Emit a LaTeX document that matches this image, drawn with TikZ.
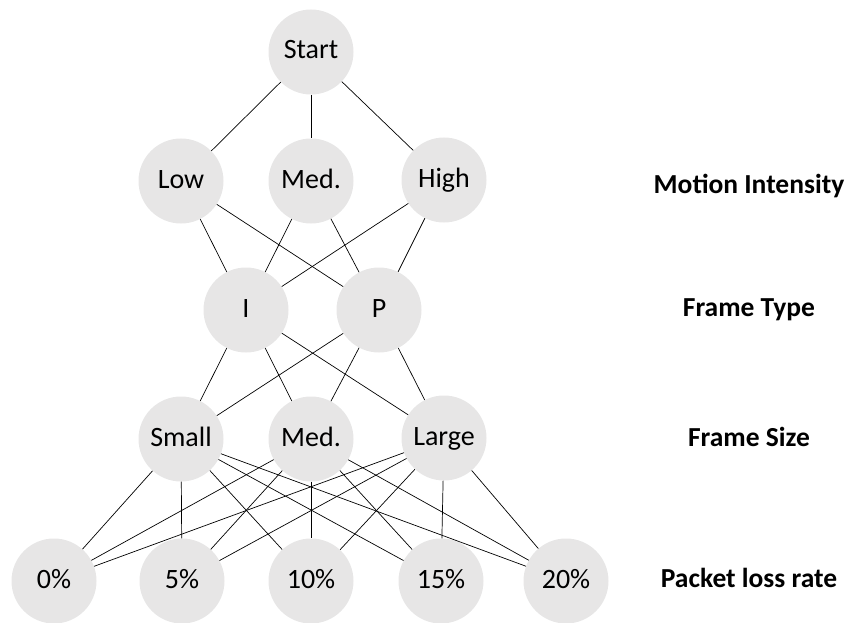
\documentclass[tikz,border=0pt]{standalone}
\usepackage{fontspec}
\setmainfont{Carlito}
\usepackage{tikz}

\definecolor{stategray}{RGB}{231,230,230}

\begin{document}
\begin{tikzpicture}[
x=1pt, y=-1pt,
state/.style={circle, fill=stategray, minimum size=85pt, inner sep=0pt,
  font=\fontsize{28}{33}\selectfont, text height=19pt, text depth=5pt},
level/.style={font=\bfseries\fontsize{27.5}{33}\selectfont},
link/.style={draw=black, line width=0.7pt}
]
\useasboundingbox (0,0) rectangle (846,623);

% tree
\node[state] (start) at (311,52) {Start};

\node[state] (low)  at (181,181) {Low};
\node[state] (medm) at (311,181) {Med.};
\node[state] (high) at (444,180) {High};

\node[state] (I) at (246,310) {I};
\node[state] (P) at (379,310) {P};

\node[state] (small) at (181,439) {Small};
\node[state] (meds)  at (311,439) {Med.};
\node[state] (large) at (444,438) {Large};

\node[state] (p0)  at (54,581)  {0\%};
\node[state] (p5)  at (182,581) {5\%};
\node[state] (p10) at (311,581) {10\%};
\node[state] (p15) at (441,581) {15\%};
\node[state] (p20) at (566,581) {20\%};

% level names
\node[level] (motion) at (749,186) {Motion Intensity};
\node[level] (ftype)  at (749,310) {Frame Type};
\node[level] (fsize)  at (749,437) {Frame Size};
\node[level] (loss)   at (749,578) {Packet loss rate};

% links
\foreach \a in {low,medm,high}
  \draw[link] (start) -- (\a);
\foreach \a in {low,medm,high}
  \foreach \b in {I,P}
    \draw[link] (\a) -- (\b);
\foreach \a in {I,P}
  \foreach \b in {small,meds,large}
    \draw[link] (\a) -- (\b);
\foreach \a in {small,meds,large}
  \foreach \b in {p0,p5,p10,p15,p20}
    \draw[link] (\a) -- (\b);

\end{tikzpicture}
\end{document}
